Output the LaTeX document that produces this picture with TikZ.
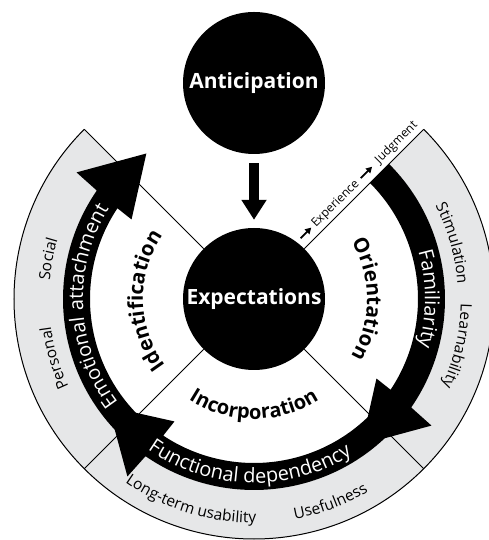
\documentclass[tikz,border=0pt]{standalone}
\usepackage{fontspec}
\setmainfont{Open Sans}
\usetikzlibrary{arrows.meta,decorations.text,calc}
\definecolor{ringgray}{RGB}{230,231,232}
\begin{document}
\begin{tikzpicture}[x=1pt,y=1pt,
  bignode/.style={circle, fill=black, minimum size=142pt, inner sep=0pt, text=white,
    font=\fontsize{21}{24}\selectfont\bfseries},
  sepline/.style={line width=1pt},
  curvetext/.style={decorate, decoration={text along path, text align=center, #1}},
  smallarrow/.style={line width=1.8pt, -{Triangle[width=6.5pt,length=6pt]}},
  linetext/.style={rotate=45, anchor=base west, inner sep=0pt, font=\fontsize{12}{14}\selectfont},
]
\useasboundingbox (0,0) rectangle (489,540);
\clip (0,0) rectangle (489,540);
\coordinate (C) at (254,241);
% gray ring
\begin{scope}[shift={(C)}]
  \fill[ringgray] (135:240pt) arc[start angle=135,end angle=405,radius=240pt]
     -- (45:191pt) arc[start angle=45,end angle=-225,radius=191pt] -- cycle;
\end{scope}
\node[bignode] (exp) at (C) {Expectations};
\node[bignode] (ant) at (254,457) {Anticipation};
% separators
\foreach \a in {45,135,225,315} {
  \coordinate (o\a) at ($(C)+(\a:240pt)$);
  \draw[sepline] (exp.\a) -- (o\a);
}
\draw[sepline] (o135) arc[start angle=135,end angle=405,radius=240pt];
% black arrow bands
\begin{scope}[shift={(C)}]
\foreach \s in {45,-45,-135} {
  \fill (\s:191pt) arc[start angle=\s, end angle=\s-79.6, radius=191pt]
    -- (\s-80.5:218pt) -- (\s-98.5:181pt) -- (\s-78:146pt) -- (\s-78.6:164pt)
    arc[start angle=\s-78.6, end angle=\s, radius=164pt] -- cycle;
}
% band labels (white)
\path[curvetext={text color=white, text={|\fontsize{20}{24}\selectfont|Familiarity}}]
  (50:171pt) arc[start angle=50,end angle=-50,radius=171pt];
\path[curvetext={text color=white, text={|\fontsize{20}{24}\selectfont|Emotional attachment}}]
  (242.7:171pt) arc[start angle=242.7,end angle=122.7,radius=171pt];
\path[curvetext={text color=white, text={|\fontsize{20}{24}\selectfont|Functional dependency}}]
  (208.5:184pt) arc[start angle=208.5,end angle=328.5,radius=184pt];
% inner labels (bold)
\path[curvetext={text={|\fontsize{20.5}{24}\selectfont\bfseries|Orientation}}]
  (60:113pt) arc[start angle=60,end angle=-60,radius=113pt];
\path[curvetext={text={|\fontsize{20.5}{24}\selectfont\bfseries|Identification}}]
  (241:111pt) arc[start angle=241,end angle=121,radius=111pt];
\path[curvetext={text={|\fontsize{20}{24}\selectfont\bfseries|Incorporation}}]
  (210:120pt) arc[start angle=210,end angle=330,radius=120pt];
% ring labels
\path[curvetext={text={|\fontsize{15.5}{18}\selectfont|Stimulation}}]
  (45.7:204pt) arc[start angle=45.7,end angle=-14.3,radius=204pt];
\path[curvetext={text={|\fontsize{15.5}{18}\selectfont|Learnability}}]
  (17:207pt) arc[start angle=17,end angle=-43,radius=207pt];
\path[curvetext={text={|\fontsize{15.5}{18}\selectfont|Social}}]
  (199:205pt) arc[start angle=199,end angle=139,radius=205pt];
\path[curvetext={text={|\fontsize{15.5}{18}\selectfont|Personal}}]
  (226.5:205pt) arc[start angle=226.5,end angle=166.5,radius=205pt];
\path[curvetext={text={|\fontsize{15.5}{18}\selectfont|Long-term usability}}]
  (212.7:224pt) arc[start angle=212.7,end angle=292.7,radius=224pt];
\path[curvetext={text={|\fontsize{15.5}{18}\selectfont|Usefulness}}]
  (260.6:224pt) arc[start angle=260.6,end angle=320.6,radius=224pt];
\end{scope}
% arrow anticipation -> expectations
\draw[line width=10pt, -{Triangle[width=24pt,length=20pt]}]
  ([yshift=-9pt]ant.south) -- ([yshift=8pt]exp.north);
% experience -> judgment along the 45 degree line
\coordinate (a1s) at ($(C)+(45:76pt)+(135:10pt)$);
\coordinate (a1e) at ($(C)+(45:91pt)+(135:10pt)$);
\coordinate (a2s) at ($(C)+(45:161pt)+(135:10pt)$);
\coordinate (a2e) at ($(C)+(45:177pt)+(135:10pt)$);
\node[linetext] (xp) at ($(C)+(45:94pt)+(135:6.5pt)$) {Experience};
\node[linetext] (jd) at ($(C)+(45:184pt)+(135:6.5pt)$) {Judgment};
\draw[smallarrow] (a1s) -- (a1e);
\draw[smallarrow] (a2s) -- (a2e);
\end{tikzpicture}
\end{document}
